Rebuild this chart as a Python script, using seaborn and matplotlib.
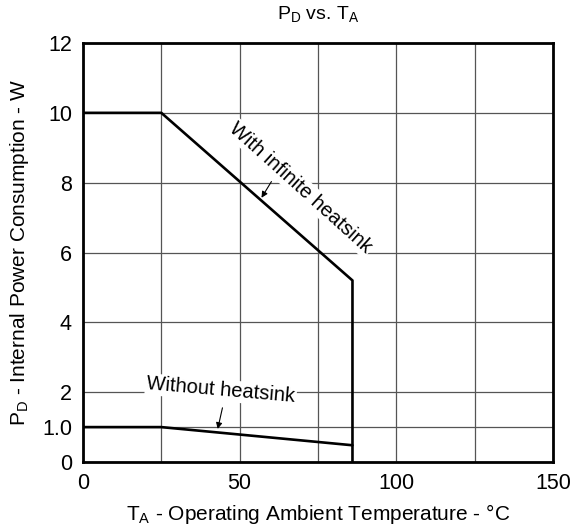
import matplotlib
matplotlib.use("Agg")
import matplotlib.pyplot as plt
import seaborn as sns

# curve data
temp_inf = [0, 25, 86, 86]
pd_inf = [10.0, 10.0, 5.2, 0.0]
temp_none = [0, 25, 86]
pd_none = [1.0, 1.0, 0.48]

x_major = [0, 50, 100, 150]
x_minor = [25, 75, 125]
y_ticks = [0, 1, 2, 4, 6, 8, 10, 12]
y_labels = ["0", "1.0", "2", "4", "6", "8", "10", "12"]

sns.set_style("white")
plt.rcParams["font.family"] = ["Liberation Sans", "DejaVu Sans"]
plt.rcParams["mathtext.fontset"] = "custom"
plt.rcParams["mathtext.rm"] = "Liberation Sans"
plt.rcParams["text.color"] = "black"
plt.rcParams["axes.labelcolor"] = "black"
plt.rcParams["xtick.color"] = "black"
plt.rcParams["ytick.color"] = "black"

fig = plt.figure(figsize=(5.72, 5.31), dpi=100)
ax = fig.add_axes([0.1451, 0.1299, 0.8217, 0.7891])

sns.lineplot(x=temp_inf, y=pd_inf, sort=False, estimator=None, color="black", lw=1.9, ax=ax)
sns.lineplot(x=temp_none, y=pd_none, sort=False, estimator=None, color="black", lw=1.9, ax=ax)

ax.set_xlim(0, 150)
ax.set_ylim(0, 12)
ax.set_xticks(x_major)
ax.set_xticks(x_minor, minor=True)
ax.set_yticks(y_ticks)
ax.set_yticklabels(y_labels)
ax.grid(True, which="both", color="#555555", lw=0.9)
ax.set_axisbelow(True)
ax.tick_params(which="both", length=0, labelsize=15.5, pad=8)
for s in ax.spines.values():
    s.set_linewidth(2.0)
    s.set_color("black")

ax.set_title(r"$\mathregular{P_D}$ vs. $\mathregular{T_A}$", fontsize=14, pad=17)
ax.set_xlabel(r"$\mathregular{T_A}$ - Operating Ambient Temperature - °C", fontsize=15, labelpad=6)
ax.set_ylabel(r"$\mathregular{P_D}$ - Internal Power Consumption - W", fontsize=15, labelpad=8)

box = dict(fc="white", ec="none", pad=1)
arrow = dict(arrowstyle="-|>", color="black", lw=0.8, mutation_scale=9)
ax.text(69.5, 7.85, "With infinite heatsink", rotation=-42, rotation_mode="anchor",
        ha="center", va="center", fontsize=14.5, bbox=box)
ax.annotate("", xy=(56.5, 7.5), xytext=(60.6, 8.1), arrowprops=arrow)
ax.text(44, 2.05, "Without heatsink", rotation=-5, rotation_mode="anchor",
        ha="center", va="center", fontsize=14.5, bbox=box)
ax.annotate("", xy=(42.8, 0.87), xytext=(44.7, 1.63), arrowprops=arrow)

fig.savefig("out.png", dpi=100)
